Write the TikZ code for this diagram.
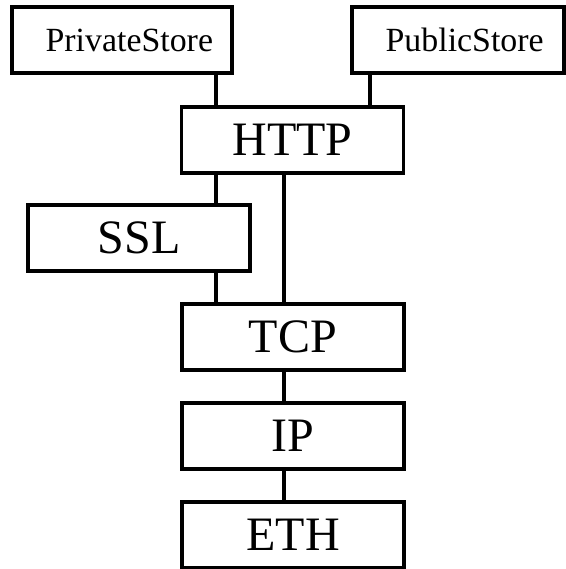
\documentclass[tikz,border=0pt]{standalone}
\usepackage{fontspec}
\setmainfont{Liberation Serif}

\tikzset{every picture/.style={line width=2.4pt}}
\tikzset{
  layerbox/.style={draw, rectangle, inner sep=0pt, minimum width=166.5pt, minimum height=49.5pt, font=\fontsize{36}{40}\selectfont},
  storebox/.style={draw, rectangle, inner sep=0pt, minimum height=49.5pt, font=\fontsize{25.4}{28}\selectfont}
}

\begin{document}
\begin{tikzpicture}[x=0.75pt,y=0.75pt,yscale=-1,xscale=1]
\useasboundingbox (0,0) rectangle (566,569);

%Shape: Rectangle [store boxes]
\node [storebox, minimum width=165pt] (priv) at (122,40) {\hspace*{11pt}PrivateStore};
\node [storebox, minimum width=159pt] (pub) at (458,40) {\hspace*{10pt}PublicStore};
%Shape: Rectangle [protocol layers]
\node [layerbox] (http) at (292.5,140) {HTTP};
\node [layerbox] (ssl) at (139,238) {SSL};
\node [layerbox] (tcp) at (293,337) {TCP};
\node [layerbox] (ip) at (293,436) {IP};
\node [layerbox] (eth) at (293,535) {ETH};

% line positions
\coordinate (lleft) at (216,0);
\coordinate (lmid) at (284,0);
\coordinate (lright) at (370,0);

%Straight Lines
\draw (priv.south -| lleft) -- (http.north -| lleft);
\draw (pub.south -| lright) -- (http.north -| lright);
\draw (http.south -| lleft) -- (ssl.north -| lleft);
\draw (ssl.south -| lleft) -- (tcp.north -| lleft);
\draw (http.south -| lmid) -- (tcp.north -| lmid);
\draw (tcp.south -| lmid) -- (ip.north -| lmid);
\draw (ip.south -| lmid) -- (eth.north -| lmid);

\end{tikzpicture}
\end{document}
